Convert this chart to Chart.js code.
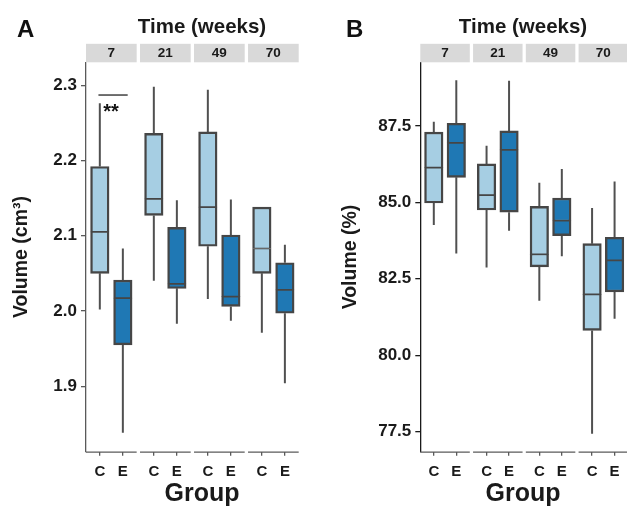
<!DOCTYPE html>
<html>
<head>
<meta charset="utf-8">
<script src="https://cdn.jsdelivr.net/npm/chart.js@4.4.1/dist/chart.umd.min.js"></script>
<style>
  html, body { margin: 0; padding: 0; background: #ffffff; }
  #wrap { position: relative; width: 627px; height: 507px; overflow: hidden; }
  #wrap canvas { position: absolute; left: 0; top: 0; }
</style>
</head>
<body>
<div id="wrap">
  <canvas id="panelA" width="627" height="507"></canvas>
  <canvas id="panelB" width="627" height="507"></canvas>
</div>
<script>
// ---------------- DATA ----------------
const weeks = ['7', '21', '49', '70'];
const groups = ['C', 'E'];

// Five-number summaries per week: [lower whisker, Q1, median, Q3, upper whisker]
const volumeCm3Control = [
  [2.002, 2.050, 2.105, 2.192, 2.276],
  [2.040, 2.127, 2.149, 2.236, 2.298],
  [2.016, 2.086, 2.138, 2.238, 2.294],
  [1.971, 2.050, 2.083, 2.138, 2.138]
];
const volumeCm3Exercise = [
  [1.838, 1.955, 2.017, 2.041, 2.083],
  [1.983, 2.030, 2.036, 2.111, 2.147],
  [1.987, 2.006, 2.019, 2.101, 2.148],
  [1.904, 1.997, 2.028, 2.064, 2.088]
];
const volumePctControl = [
  [84.26, 84.98, 86.14, 87.30, 87.64],
  [82.87, 84.75, 85.24, 86.26, 86.85],
  [81.78, 82.89, 83.30, 84.87, 85.64],
  [77.43, 80.81, 81.99, 83.65, 84.82]
];
const volumePctExercise = [
  [83.33, 85.82, 86.95, 87.59, 89.00],
  [84.07, 84.68, 86.72, 87.34, 88.98],
  [83.24, 83.91, 84.40, 85.14, 86.09],
  [81.19, 82.07, 83.10, 83.86, 85.68]
];

const ticksCm3 = [1.9, 2.0, 2.1, 2.2, 2.3];
const ticksPct = [77.5, 80.0, 82.5, 85.0, 87.5];

// significance annotation (week 7, panel A)
const sigLabel = '**';
const sigLevel = 2.287;

// ---------------- STYLE / LAYOUT ----------------
const colorControl = '#a6cee3';
const colorExercise = '#1f78b4';
const boxLine = '#464646';
const whiskerLine = '#505050';
const axisGray = '#5a5a5a';
const textColor = '#1a1a1a';
const stripFill = '#d9d9d9';
const FONT = "'Liberation Sans', Arial, Helvetica, sans-serif";

const FACET_STEP = 2.345;   // x-units between facets (2 groups + expansion + gap)
const EXPAND = 0.6;         // discrete axis expansion on each side of a facet

function xPos(k, g) { return k * FACET_STEP + g; }

function buildDatasets(ctrl, expt) {
  const series = [ctrl, expt];
  const lower = [], upper = [], whisk = [], bg = [];
  weeks.forEach((w, k) => {
    series.forEach((s, g) => {
      const [lo, q1, med, q3, hi] = s[k];
      const x = xPos(k, g);
      lower.push({ x: x, y: [q1, med] });
      upper.push({ x: x, y: [med, q3] });
      bg.push(g === 0 ? colorControl : colorExercise);
      whisk.push({ x: x, y: lo }, { x: x, y: q1 }, { x: x, y: null },
                 { x: x, y: q3 }, { x: x, y: hi }, { x: x, y: null });
    });
  });
  const barCommon = {
    type: 'bar',
    backgroundColor: bg,
    borderColor: boxLine,
    borderSkipped: false,
    barThickness: 18.5,
    grouped: false,
    order: 1
  };
  return [
    Object.assign({}, barCommon, { label: 'lower', data: lower,
      borderWidth: { top: 1.2, bottom: 2.4, left: 2.4, right: 2.4 } }),
    Object.assign({}, barCommon, { label: 'upper', data: upper,
      borderWidth: { top: 2.4, bottom: 1.2, left: 2.4, right: 2.4 } }),
    { type: 'line', label: 'whiskers', data: whisk, borderColor: whiskerLine,
      borderWidth: 2, pointRadius: 0, spanGaps: false, fill: false, order: 5 }
  ];
}

function decorPlugin(p) {
  return {
    id: 'decor' + p.letter,
    afterDraw(chart) {
      const ctx = chart.ctx;
      const xs = chart.scales.x;
      const ys = chart.scales.y;
      const area = chart.chartArea;
      ctx.save();
      weeks.forEach((w, k) => {
        const x0 = xs.getPixelForValue(k * FACET_STEP - EXPAND);
        const x1 = xs.getPixelForValue(k * FACET_STEP + 1 + EXPAND);
        // x-axis segment of this facet
        ctx.strokeStyle = axisGray;
        ctx.lineWidth = 1.3;
        ctx.beginPath();
        ctx.moveTo(x0, area.bottom + 0.5);
        ctx.lineTo(x1, area.bottom + 0.5);
        ctx.stroke();
        // strip
        ctx.fillStyle = stripFill;
        ctx.fillRect(x0, area.top - 18.5, x1 - x0, 18.5);
        ctx.fillStyle = textColor;
        ctx.font = 'bold 13.5px ' + FONT;
        ctx.textAlign = 'center';
        ctx.textBaseline = 'middle';
        ctx.fillText(w, (x0 + x1) / 2, area.top - 9.3);
      });
      // header / footer titles
      ctx.fillStyle = textColor;
      ctx.textAlign = 'center';
      ctx.textBaseline = 'alphabetic';
      ctx.font = 'bold 20.5px ' + FONT;
      ctx.fillText('Time (weeks)', p.titleX, 32.5);
      ctx.font = 'bold 25px ' + FONT;
      ctx.fillText('Group', p.titleX, 501);
      // panel letter
      ctx.textAlign = 'left';
      ctx.font = 'bold 24px ' + FONT;
      ctx.fillStyle = '#111111';
      ctx.fillText(p.letter, p.letterX, 37);
      // significance annotation
      if (p.sig) {
        const lx0 = xs.getPixelForValue(xPos(0, 0) - 0.06);
        const lx1 = xs.getPixelForValue(xPos(0, 1) + 0.21);
        const ly = ys.getPixelForValue(sigLevel);
        ctx.strokeStyle = '#111111';
        ctx.lineWidth = 1.2;
        ctx.beginPath();
        ctx.moveTo(lx0, ly);
        ctx.lineTo(lx1, ly);
        ctx.stroke();
        ctx.fillStyle = '#111111';
        ctx.textAlign = 'center';
        ctx.font = 'bold 20px ' + FONT;
        ctx.fillText(sigLabel, xs.getPixelForValue(0.49), ly + 22.5);
      }
      ctx.restore();
    }
  };
}

function makePanel(id, p) {
  const tickPositions = [];
  weeks.forEach((w, k) => groups.forEach((g, gi) => tickPositions.push(xPos(k, gi))));
  return new Chart(document.getElementById(id), {
    type: 'bar',
    data: { datasets: buildDatasets(p.ctrl, p.expt) },
    options: {
      responsive: false,
      animation: false,
      events: [],
      devicePixelRatio: 1,
      layout: { padding: { left: p.padLeft, right: p.padRight, top: 62.3, bottom: 0 } },
      plugins: { legend: { display: false }, tooltip: { enabled: false }, title: { display: false } },
      scales: {
        x: {
          type: 'linear',
          offset: false,
          min: -EXPAND,
          max: p.xMax,
          afterBuildTicks: (scale) => { scale.ticks = tickPositions.map(v => ({ value: v })); },
          afterFit: (scale) => { scale.height = 55.3; },
          ticks: {
            autoSkip: false,
            maxRotation: 0,
            padding: 7,
            color: textColor,
            font: { family: FONT, size: 15, weight: 'bold' },
            callback: (v, i) => groups[i % groups.length]
          },
          grid: { display: true, offset: false, drawOnChartArea: false, drawTicks: true, tickLength: 4,
                  color: axisGray, lineWidth: 1.3 },
          border: { display: false }
        },
        y: {
          type: 'linear',
          min: p.yMin,
          max: p.yMax,
          afterBuildTicks: (scale) => { scale.ticks = p.ticks.map(v => ({ value: v })); },
          afterFit: (scale) => { scale.width = p.yWidth; },
          ticks: {
            padding: 4,
            color: textColor,
            font: { family: FONT, size: 17, weight: 'bold' },
            callback: (v) => Number(v).toFixed(1)
          },
          grid: { display: true, drawOnChartArea: false, drawTicks: true, tickLength: 5,
                  color: p.yAxisColor, lineWidth: 1.3 },
          border: { display: true, color: p.yAxisColor, width: 1.3 },
          title: {
            display: true,
            text: p.yTitle,
            color: textColor,
            font: { family: FONT, size: 19.5, weight: 'bold' },
            padding: { top: p.yTitlePad, bottom: 0 }
          }
        }
      }
    },
    plugins: [decorPlugin(p)]
  });
}

makePanel('panelA', {
  letter: 'A', letterX: 17, titleX: 202, sig: true,
  ctrl: volumeCm3Control, expt: volumeCm3Exercise,
  ticks: ticksCm3, yMin: 1.8129, yMax: 2.3305,
  yTitle: 'Volume (cm\u00B3)', yTitlePad: 10,
  padLeft: 0, padRight: 328.3, yWidth: 86,
  xMax: 3 * FACET_STEP + 1 + EXPAND,
  yAxisColor: axisGray
});

makePanel('panelB', {
  letter: 'B', letterX: 346, titleX: 523, sig: false,
  ctrl: volumePctControl, expt: volumePctExercise,
  ticks: ticksPct, yMin: 76.84, yMax: 89.585,
  yTitle: 'Volume (%)', yTitlePad: 4,
  padLeft: 335, padRight: 0, yWidth: 85.3,
  xMax: 8.587,
  yAxisColor: '#1a1a1a'
});
</script>
</body>
</html>
